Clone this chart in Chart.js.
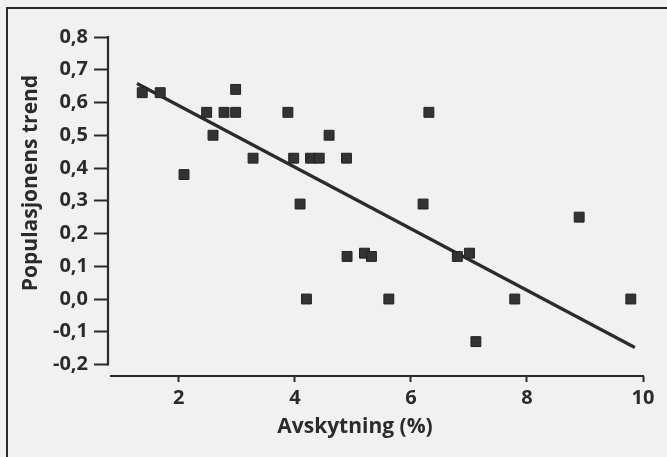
<!DOCTYPE html>
<html>
<head>
<meta charset="utf-8">
<script src="https://cdn.jsdelivr.net/npm/chart.js@4"></script>
<style>
  html, body { margin: 0; padding: 0; background: #f1f1f0; }
  #wrap { position: relative; width: 667px; height: 457px; overflow: hidden; }
  #frame { position: absolute; left: 6px; top: 7px; width: 680px; height: 470px; border: 2px solid #2b2b2b; }
  canvas { position: absolute; left: 0; top: 0; }
</style>
</head>
<body>
<div id="wrap">
  <div id="frame"></div>
  <canvas id="chart" width="667" height="457"></canvas>
</div>
<script>
// Data
const xValues = [1.37, 1.68, 2.09, 2.48, 2.59, 2.78, 2.98, 2.98, 3.28, 3.88, 3.98, 4.09, 4.20, 4.27, 4.42,
                 4.59, 4.89, 4.90, 5.20, 5.32, 5.62, 6.21, 6.31, 6.80, 7.01, 7.12, 7.79, 8.90, 9.79];
const yValues = [0.63, 0.63, 0.38, 0.57, 0.50, 0.57, 0.57, 0.64, 0.43, 0.57, 0.43, 0.29, 0.00, 0.43, 0.43,
                 0.50, 0.43, 0.13, 0.14, 0.13, 0.00, 0.29, 0.57, 0.13, 0.14, -0.13, 0.00, 0.25, 0.00];
const trendX = [1.28, 9.86];
const trendY = [0.658, -0.148];
const xTicks = [2, 4, 6, 8, 10];
const yTicks = [-0.2, -0.1, 0, 0.1, 0.2, 0.3, 0.4, 0.5, 0.6, 0.7, 0.8];
const xTitle = 'Avskytning (%)';
const yTitle = 'Populasjonens trend';

const ink = '#2b2b2b';
const font = { family: "'Open Sans', sans-serif", size: 20, weight: 'bold' };

// axis lines + titles, the figure uses detached axes
const axesPlugin = {
  id: 'axes',
  afterDraw(chart) {
    const c = chart.ctx;
    const xs = chart.scales.x, ys = chart.scales.y;
    const area = chart.chartArea;
    c.save();
    c.strokeStyle = ink;
    c.lineWidth = 2.2;
    c.beginPath();
    c.moveTo(area.left, ys.getPixelForValue(yTicks[yTicks.length - 1]) - 1);
    c.lineTo(area.left, ys.getPixelForValue(yTicks[0]) + 1);
    c.stroke();
    c.beginPath();
    c.moveTo(area.left + 2, area.bottom);
    c.lineTo(xs.getPixelForValue(xTicks[xTicks.length - 1]) + 1, area.bottom);
    c.stroke();

    c.fillStyle = ink;
    c.font = "bold 21px 'Open Sans', sans-serif";
    c.textAlign = 'center';
    c.textBaseline = 'middle';
    c.fillText(xTitle, 355, 427);
    c.translate(31, 183);
    c.rotate(-Math.PI / 2);
    c.fillText(yTitle, 0, 0);
    c.restore();
  }
};

new Chart(document.getElementById('chart'), {
  type: 'scatter',
  data: {
    datasets: [{
      data: xValues.map((x, i) => ({ x: x, y: yValues[i] })),
      pointStyle: 'rect',
      pointRadius: 7,
      pointHoverRadius: 7,
      backgroundColor: '#333',
      borderColor: '#222',
      borderWidth: 1
    }, {
      type: 'line',
      data: trendX.map((x, i) => ({ x: x, y: trendY[i] })),
      borderColor: ink,
      borderWidth: 3.2,
      pointRadius: 0,
      fill: false
    }]
  },
  options: {
    responsive: false,
    animation: false,
    devicePixelRatio: 1,
    layout: { padding: { left: 0, top: 37, right: 24, bottom: 0 } },
    plugins: { legend: { display: false }, tooltip: { enabled: false } },
    scales: {
      x: {
        type: 'linear',
        min: 0.78,
        max: 10,
        afterFit(s) { s.height = 81; },
        afterBuildTicks(s) { s.ticks = xTicks.map(v => ({ value: v })); },
        border: { display: false },
        grid: { drawOnChartArea: false, tickLength: 6, tickWidth: 2, color: ink },
        ticks: { color: ink, font: font, padding: 4 }
      },
      y: {
        min: -0.235,
        max: 0.8,
        afterFit(s) { s.width = 108; },
        afterBuildTicks(s) { s.ticks = yTicks.map(v => ({ value: v })); },
        border: { display: false },
        grid: { drawOnChartArea: false, tickLength: 14, tickWidth: 2, color: ink },
        ticks: {
          color: ink, font: font, padding: 6,
          callback: v => v.toFixed(1).replace('.', ',')
        }
      }
    }
  },
  plugins: [axesPlugin]
});
</script>
</body>
</html>
